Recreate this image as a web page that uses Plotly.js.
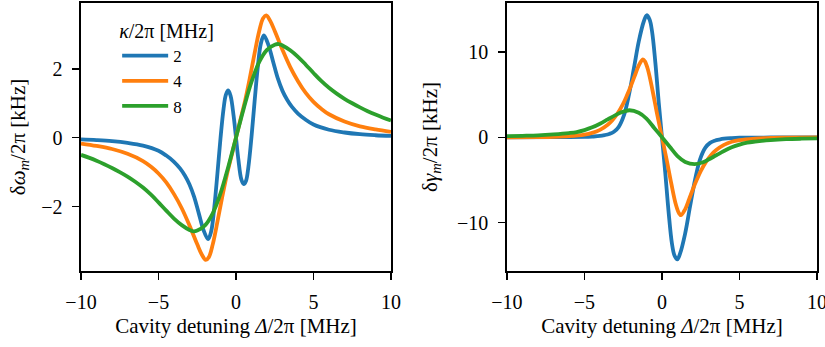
<!DOCTYPE html>
<html>
<head>
<meta charset="utf-8">
<script src="https://cdn.plot.ly/plotly-3.0.1.min.js"></script>
<style>
  html, body { margin: 0; padding: 0; background: #fff; }
  #plot { width: 825px; height: 347px; }
</style>
</head>
<body>
<div id="plot"></div>
<script>
// Cavity linewidths kappa/2pi in MHz (legend labels)
const kappaLabels = ['2', '4', '8'];
const colors = ['#1f77b4', '#ff7f0e', '#2ca02c'];

// Optical spring: frequency shift delta-omega_m/2pi [kHz] vs detuning [MHz]
const dwX_k2 = [-10,-9,-8,-7,-6,-5,-4.5,-4,-3.6,-3.3,-3,-2.7,-2.4,-2.1,-1.8,-1.6,-1.4,-1.2,-1,-0.8,-0.65,-0.5,-0.35,-0.15,0,0.15,0.35,0.5,0.65,0.8,1,1.2,1.4,1.6,1.8,2.1,2.4,2.7,3,3.3,3.6,4,4.5,5,6,7,8,9,10];
const dwY_k2 = [-0.05,-0.07,-0.10,-0.15,-0.23,-0.38,-0.52,-0.7,-0.9,-1.1,-1.36,-1.72,-2.2,-2.68,-2.95,-2.72,-2.02,-1.05,-0.02,0.85,1.25,1.37,1.22,0.62,0,-0.62,-1.22,-1.35,-1.25,-0.85,0.02,1.05,2.02,2.72,2.97,2.68,2.2,1.72,1.36,1.1,0.9,0.7,0.52,0.38,0.23,0.15,0.10,0.07,0.05];

const dwX_k4 = [-10,-9,-8,-7,-6,-5.5,-5,-4.5,-4,-3.5,-3,-2.5,-2.2,-1.95,-1.75,-1.5,-1.2,-0.9,-0.6,-0.3,0,0.3,0.6,0.9,1.2,1.5,1.75,1.95,2.2,2.5,3,3.5,4,4.5,5,5.5,6,7,8,9,10];
const dwY_k4 = [-0.17,-0.24,-0.33,-0.47,-0.68,-0.84,-1.04,-1.3,-1.64,-2.05,-2.55,-3.1,-3.4,-3.55,-3.47,-3.1,-2.45,-1.75,-1.1,-0.55,0,0.55,1.1,1.75,2.45,3.1,3.47,3.55,3.4,3.1,2.55,2.05,1.64,1.3,1.04,0.84,0.68,0.47,0.33,0.24,0.17];

const dwX_k8 = [-10,-9.5,-9,-8.5,-8,-7.5,-7,-6.5,-6,-5.5,-5,-4.5,-4,-3.5,-3,-2.75,-2.5,-2,-1.5,-1,-0.5,0,0.5,1,1.5,2,2.5,2.75,3,3.5,4,4.5,5,5.5,6,6.5,7,7.5,8,8.5,9,9.5,10];
const dwY_k8 = [-0.5,-0.58,-0.67,-0.77,-0.88,-1.0,-1.13,-1.28,-1.45,-1.65,-1.88,-2.12,-2.35,-2.54,-2.68,-2.72,-2.7,-2.55,-2.2,-1.62,-0.85,0,0.85,1.62,2.2,2.55,2.7,2.72,2.68,2.54,2.35,2.12,1.88,1.65,1.45,1.28,1.13,1.0,0.88,0.77,0.67,0.58,0.5];

// Optical damping: linewidth change delta-gamma_m/2pi [kHz] vs detuning [MHz]
const dgX_k2 = [-10,-7,-5,-4.5,-4,-3.7,-3.4,-3.1,-2.8,-2.45,-2.13,-1.81,-1.49,-1.17,-0.99,-0.8,-0.64,-0.43,-0.21,0,0.21,0.43,0.64,0.8,0.99,1.17,1.49,1.81,2.13,2.45,2.8,3.1,3.4,3.7,4,4.5,5,7,10];
const dgY_k2 = [0.01,0.02,0.05,0.09,0.16,0.26,0.4,0.65,1.2,2.6,5.0,8.1,11.3,13.6,14.3,13.8,12.4,8.8,4.1,0,-4.1,-8.8,-12.4,-13.8,-14.3,-13.6,-11.3,-8.1,-5.0,-2.6,-1.2,-0.65,-0.4,-0.26,-0.16,-0.09,-0.05,-0.02,-0.01];

const dgX_k4 = [-10,-8,-7,-6,-5,-4.5,-4,-3.5,-3.2,-2.85,-2.5,-2.25,-2,-1.75,-1.5,-1.23,-1.1,-0.9,-0.6,-0.3,0,0.3,0.6,0.9,1.1,1.23,1.5,1.75,2,2.25,2.5,2.85,3.2,3.5,4,4.5,5,6,7,8,10];
const dgY_k4 = [0.01,0.03,0.06,0.14,0.32,0.52,0.88,1.48,2.0,2.85,3.95,4.95,6.05,7.25,8.4,9.12,8.9,7.9,5.4,2.6,0,-2.6,-5.4,-7.9,-8.9,-9.12,-8.4,-7.25,-6.05,-4.95,-3.95,-2.85,-2.0,-1.48,-0.88,-0.52,-0.32,-0.14,-0.06,-0.03,-0.01];

const dgX_k8 = [-10,-9,-8,-7,-6,-5.5,-5,-4.5,-4,-3.5,-3,-2.6,-2.1,-1.5,-1,-0.5,0,0.5,1,1.5,2.1,2.6,3,3.5,4,4.5,5,5.5,6,7,8,9,10];
const dgY_k8 = [0.13,0.18,0.24,0.35,0.5,0.62,0.85,1.17,1.6,2.1,2.6,2.95,3.17,2.88,2.2,1.1,0,-1.1,-2.2,-2.88,-3.15,-2.95,-2.6,-2.1,-1.6,-1.17,-0.85,-0.62,-0.5,-0.33,-0.22,-0.16,-0.12];

const xTicks = [-10, -5, 0, 5, 10];
const shiftTicks = [-2, 0, 2];
const dampTicks = [-10, 0, 10];

const FONT = '"Liberation Serif", "DejaVu Serif", serif';
const LW = 3.8;

function curve(x, y, i, ax, showleg) {
  return {
    x: x, y: y, type: 'scatter', mode: 'lines',
    name: kappaLabels[i],
    legendgroup: 'k' + i,
    showlegend: showleg,
    xaxis: ax[0], yaxis: ax[1],
    line: { color: colors[i], width: LW, shape: 'spline', smoothing: 1 }
  };
}

const traces = [
  curve(dwX_k2, dwY_k2, 0, ['x', 'y'], true),
  curve(dwX_k4, dwY_k4, 1, ['x', 'y'], true),
  curve(dwX_k8, dwY_k8, 2, ['x', 'y'], true),
  curve(dgX_k2, dgY_k2, 0, ['x2', 'y2'], false),
  curve(dgX_k4, dgY_k4, 1, ['x2', 'y2'], false),
  curve(dgX_k8, dgY_k8, 2, ['x2', 'y2'], false)
];

const axisCommon = {
  showline: true, mirror: true, linecolor: '#000', linewidth: 1.6,
  ticks: 'outside', ticklen: 7, tickwidth: 1.6, tickcolor: '#000',
  showgrid: false, zeroline: false,
  tickfont: { family: FONT, size: 20, color: '#000' },
  ticklabeloverflow: 'allow',
  automargin: false, fixedrange: true
};

function xAxis(domain, anchor) {
  return Object.assign({}, axisCommon, {
    domain: domain, anchor: anchor, range: [-10, 10],
    tickmode: 'array', tickvals: xTicks,
    ticklabelstandoff: 5,
    title: { text: 'Cavity detuning <i>Δ</i>/2π [MHz]', font: { family: FONT, size: 21, color: '#000' }, standoff: 6 }
  });
}

function yAxis(range, ticks, anchor, text, standoff) {
  return Object.assign({}, axisCommon, {
    domain: [0.219, 0.9914], anchor: anchor, range: range,
    tickmode: 'array', tickvals: ticks,
    ticklabelstandoff: 6,
    title: { text: text, font: { family: FONT, size: 21, color: '#000' }, standoff: standoff }
  });
}

const layout = {
  width: 825, height: 347,
  margin: { l: 0, r: 0, t: 0, b: 0 },
  paper_bgcolor: '#fff', plot_bgcolor: '#fff',
  font: { family: FONT, color: '#000' },
  showlegend: true,
  xaxis: xAxis([0.0982, 0.4739], 'y'),
  yaxis: yAxis([-3.874, 3.913], shiftTicks, 'x', 'δ<i>ω<sub>m</sub></i>/2π [kHz]', 10),
  xaxis2: xAxis([0.6145, 0.9903], 'y2'),
  yaxis2: yAxis([-15.66, 15.74], dampTicks, 'x2', 'δ<i>γ<sub>m</sub></i>/2π [kHz]', 14),
  legend: {
    x: 0.142, y: 0.965, xanchor: 'left', yanchor: 'top',
    bgcolor: 'rgba(0,0,0,0)', borderwidth: 0,
    font: { family: FONT, size: 17, color: '#000' },
    title: { text: '<i>κ</i>/2π [MHz]', font: { family: FONT, size: 20, color: '#000' } },
    itemwidth: 46, tracegroupgap: 0
  }
};

Plotly.newPlot('plot', traces, layout, { staticPlot: true, displayModeBar: false });
</script>
</body>
</html>
